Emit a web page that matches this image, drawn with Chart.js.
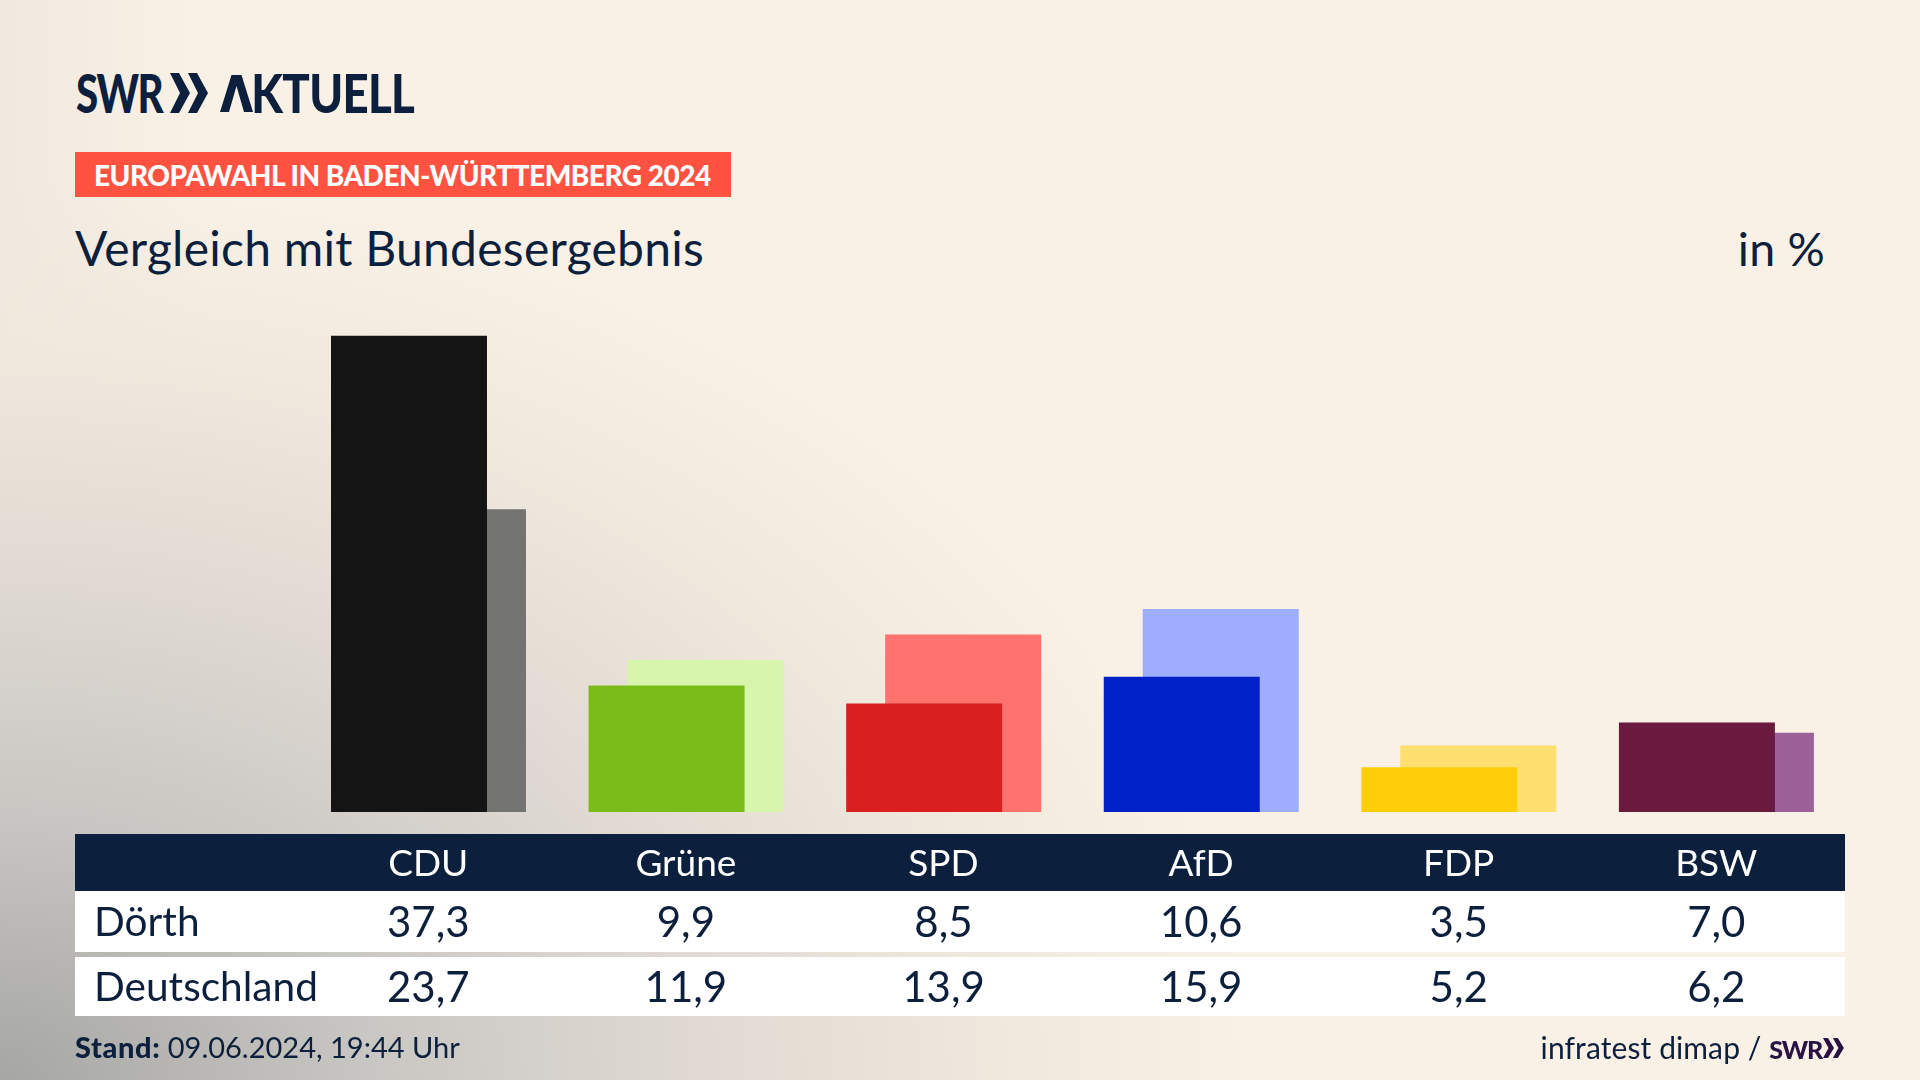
<!DOCTYPE html>
<html lang="de">
<head>
<meta charset="utf-8">
<title>Vergleich mit Bundesergebnis</title>
<script src="https://cdn.jsdelivr.net/npm/chart.js@4"></script>
<style>
html, body { margin: 0; padding: 0; }
#stage {
    position: relative; width: 1920px; height: 1080px; overflow: hidden;
    color: #0c1f3d; font-family: Lato, sans-serif;
    background:
        radial-gradient(ellipse 1250px 900px at 0 1080px, #a6a6a4 0%, #c9c7c3 30%, #dfd9d2 55%, #f0e8dd 80%, rgba(250,241,230,0) 100%),
        linear-gradient(90deg, #f0e9df 0, #faf1e6 200px);
    background-color: #faf1e6;
}
#stage > * { position: absolute; }
canvas { left: 0; top: 0; }
.logo { left: 76px; top: 63px; height: 60px; line-height: 60px; font-size: 53px; font-weight: 900; white-space: nowrap; }
.logo svg { position: absolute; }
.logo .swr { position: absolute; left: 0; transform: scaleX(.76); transform-origin: 0 50%; letter-spacing: -2px; }
.logo .aktuell { position: absolute; left: 144px; transform: scaleX(.86); transform-origin: 0 50%; letter-spacing: -.8px; }
.lam { color: transparent; }
.tag {
    left: 75px; top: 152px; width: 656px; height: 45px; background: #ff5240; color: #fff;
    font-size: 28px; font-weight: 900; line-height: 46px; text-indent: 19px; white-space: nowrap; letter-spacing: -.5px;
}
.sub { top: 218px; font-size: 48px; line-height: 60px; white-space: nowrap; letter-spacing: .25px; }
#table { left: 75px; top: 834px; width: 1770px; font-size: 42px; }
.row { display: grid; grid-template-columns: 224.5px repeat(6, 257.6px); align-items: center; text-align: center; background: #fff; height: 61px; line-height: 58px; }
.row.head { background: #0c1f3d; color: #fff; height: 56.5px; font-size: 37px; line-height: 56.5px; }
.row.second { margin-top: 5px; height: 59.5px; }
.row .name { text-align: left; padding-left: 19px; white-space: nowrap; font-size: 40.6px; }
.foot { top: 1029px; font-size: 29px; line-height: 36px; white-space: nowrap; }
.foot b { font-weight: 900; letter-spacing: .6px; }
.foot .mark { display: inline-block; font-size: 25px; letter-spacing: -1.2px; color: #2a1245; }
</style>
</head>
<body>
<div id="stage">
    <div class="logo" style="width:340px">
        <span class="swr">SWR</span>
        <svg style="left:94px;top:10px" width="40" height="40" viewBox="0 0 40 40"><polygon fill="#0c1f3d" points="0,0 9,0 20,20 9,40 0,40 10,20"/><polygon fill="#0c1f3d" points="18,0 27,0 38,20 27,40 18,40 28,20"/></svg>
        <span class="aktuell"><span class="lam">A</span>KTUELL</span>
        <svg style="left:144px;top:12px" width="33" height="37" viewBox="0 0 33 37"><polygon fill="#0c1f3d" points="11.5,0 21.5,0 33,37 24,37 16.5,11 9,37 0,37"/></svg>
    </div>
    <div class="tag">EUROPAWAHL IN BADEN-WÜRTTEMBERG 2024</div>
    <div class="sub" style="left:75px">Vergleich mit Bundesergebnis</div>
    <div class="sub" style="right:95px;font-size:46.5px">in %</div>
    <canvas id="chart" width="1920" height="1080"></canvas>
    <div id="table"></div>
    <div class="foot" style="left:75px"><b>Stand:</b> 09.06.2024, 19:44 Uhr</div>
    <div class="foot" style="right:75px;padding-right:23px;font-size:30px;letter-spacing:.1px">infratest dimap / <b class="mark">SWR</b>
        <svg style="position:absolute;right:0;top:9px" width="22" height="20" viewBox="0 0 40 40" preserveAspectRatio="none"><polygon fill="#2a1245" points="0,0 9,0 20,20 9,40 0,40 10,20"/><polygon fill="#2a1245" points="18,0 27,0 38,20 27,40 18,40 28,20"/></svg>
    </div>
</div>
<script>
'use strict';

// ── Data ──────────────────────────────────────────────────────────────────────
const parties     = ['CDU', 'Grüne', 'SPD', 'AfD', 'FDP', 'BSW'];
const doerth      = [37.3, 9.9, 8.5, 10.6, 3.5, 7.0];
const deutschland = [23.7, 11.9, 13.9, 15.9, 5.2, 6.2];
const rowLabels   = ['Dörth', 'Deutschland'];

const colorsFront = ['#141414', '#7abd1a', '#d9201f', '#0020c8', '#ffce0a', '#6a193f'];
const colorsBack  = ['#737372', '#d7f5ab', '#ff736e', '#9fadff', '#ffe06e', '#9b6097'];

// ── Table under the chart ─────────────────────────────────────────────────────
const fmt = v => v.toFixed(1).replace('.', ',');

function rowHtml(cls, name, cells) {
    return `<div class="row ${cls}"><div class="name">${name}</div>` +
        cells.map(c => `<div>${c}</div>`).join('') + '</div>';
}

document.getElementById('table').innerHTML =
    rowHtml('head', '', parties) +
    rowHtml('', rowLabels[0], doerth.map(fmt)) +
    rowHtml('second', rowLabels[1], deutschland.map(fmt));

// ── Chart ─────────────────────────────────────────────────────────────────────
// barPercentage > 1 makes the two grouped bars overlap, first dataset on top
new Chart(document.getElementById('chart'), {
    type: 'bar',
    data: {
        labels: parties,
        datasets: [
            { label: rowLabels[0], data: doerth, backgroundColor: colorsFront },
            { label: rowLabels[1], data: deutschland, backgroundColor: colorsBack }
        ]
    },
    options: {
        responsive: false,
        animation: false,
        devicePixelRatio: 1,
        categoryPercentage: 78 / 257.6,
        barPercentage: 4,
        layout: { padding: { left: 299.7, right: 74.8, top: 301.2, bottom: 268 } },
        scales: {
            x: { display: false },
            y: { display: false, min: 0, max: 40 }
        },
        plugins: {
            legend: { display: false },
            tooltip: { enabled: false }
        }
    }
});
</script>
</body>
</html>
